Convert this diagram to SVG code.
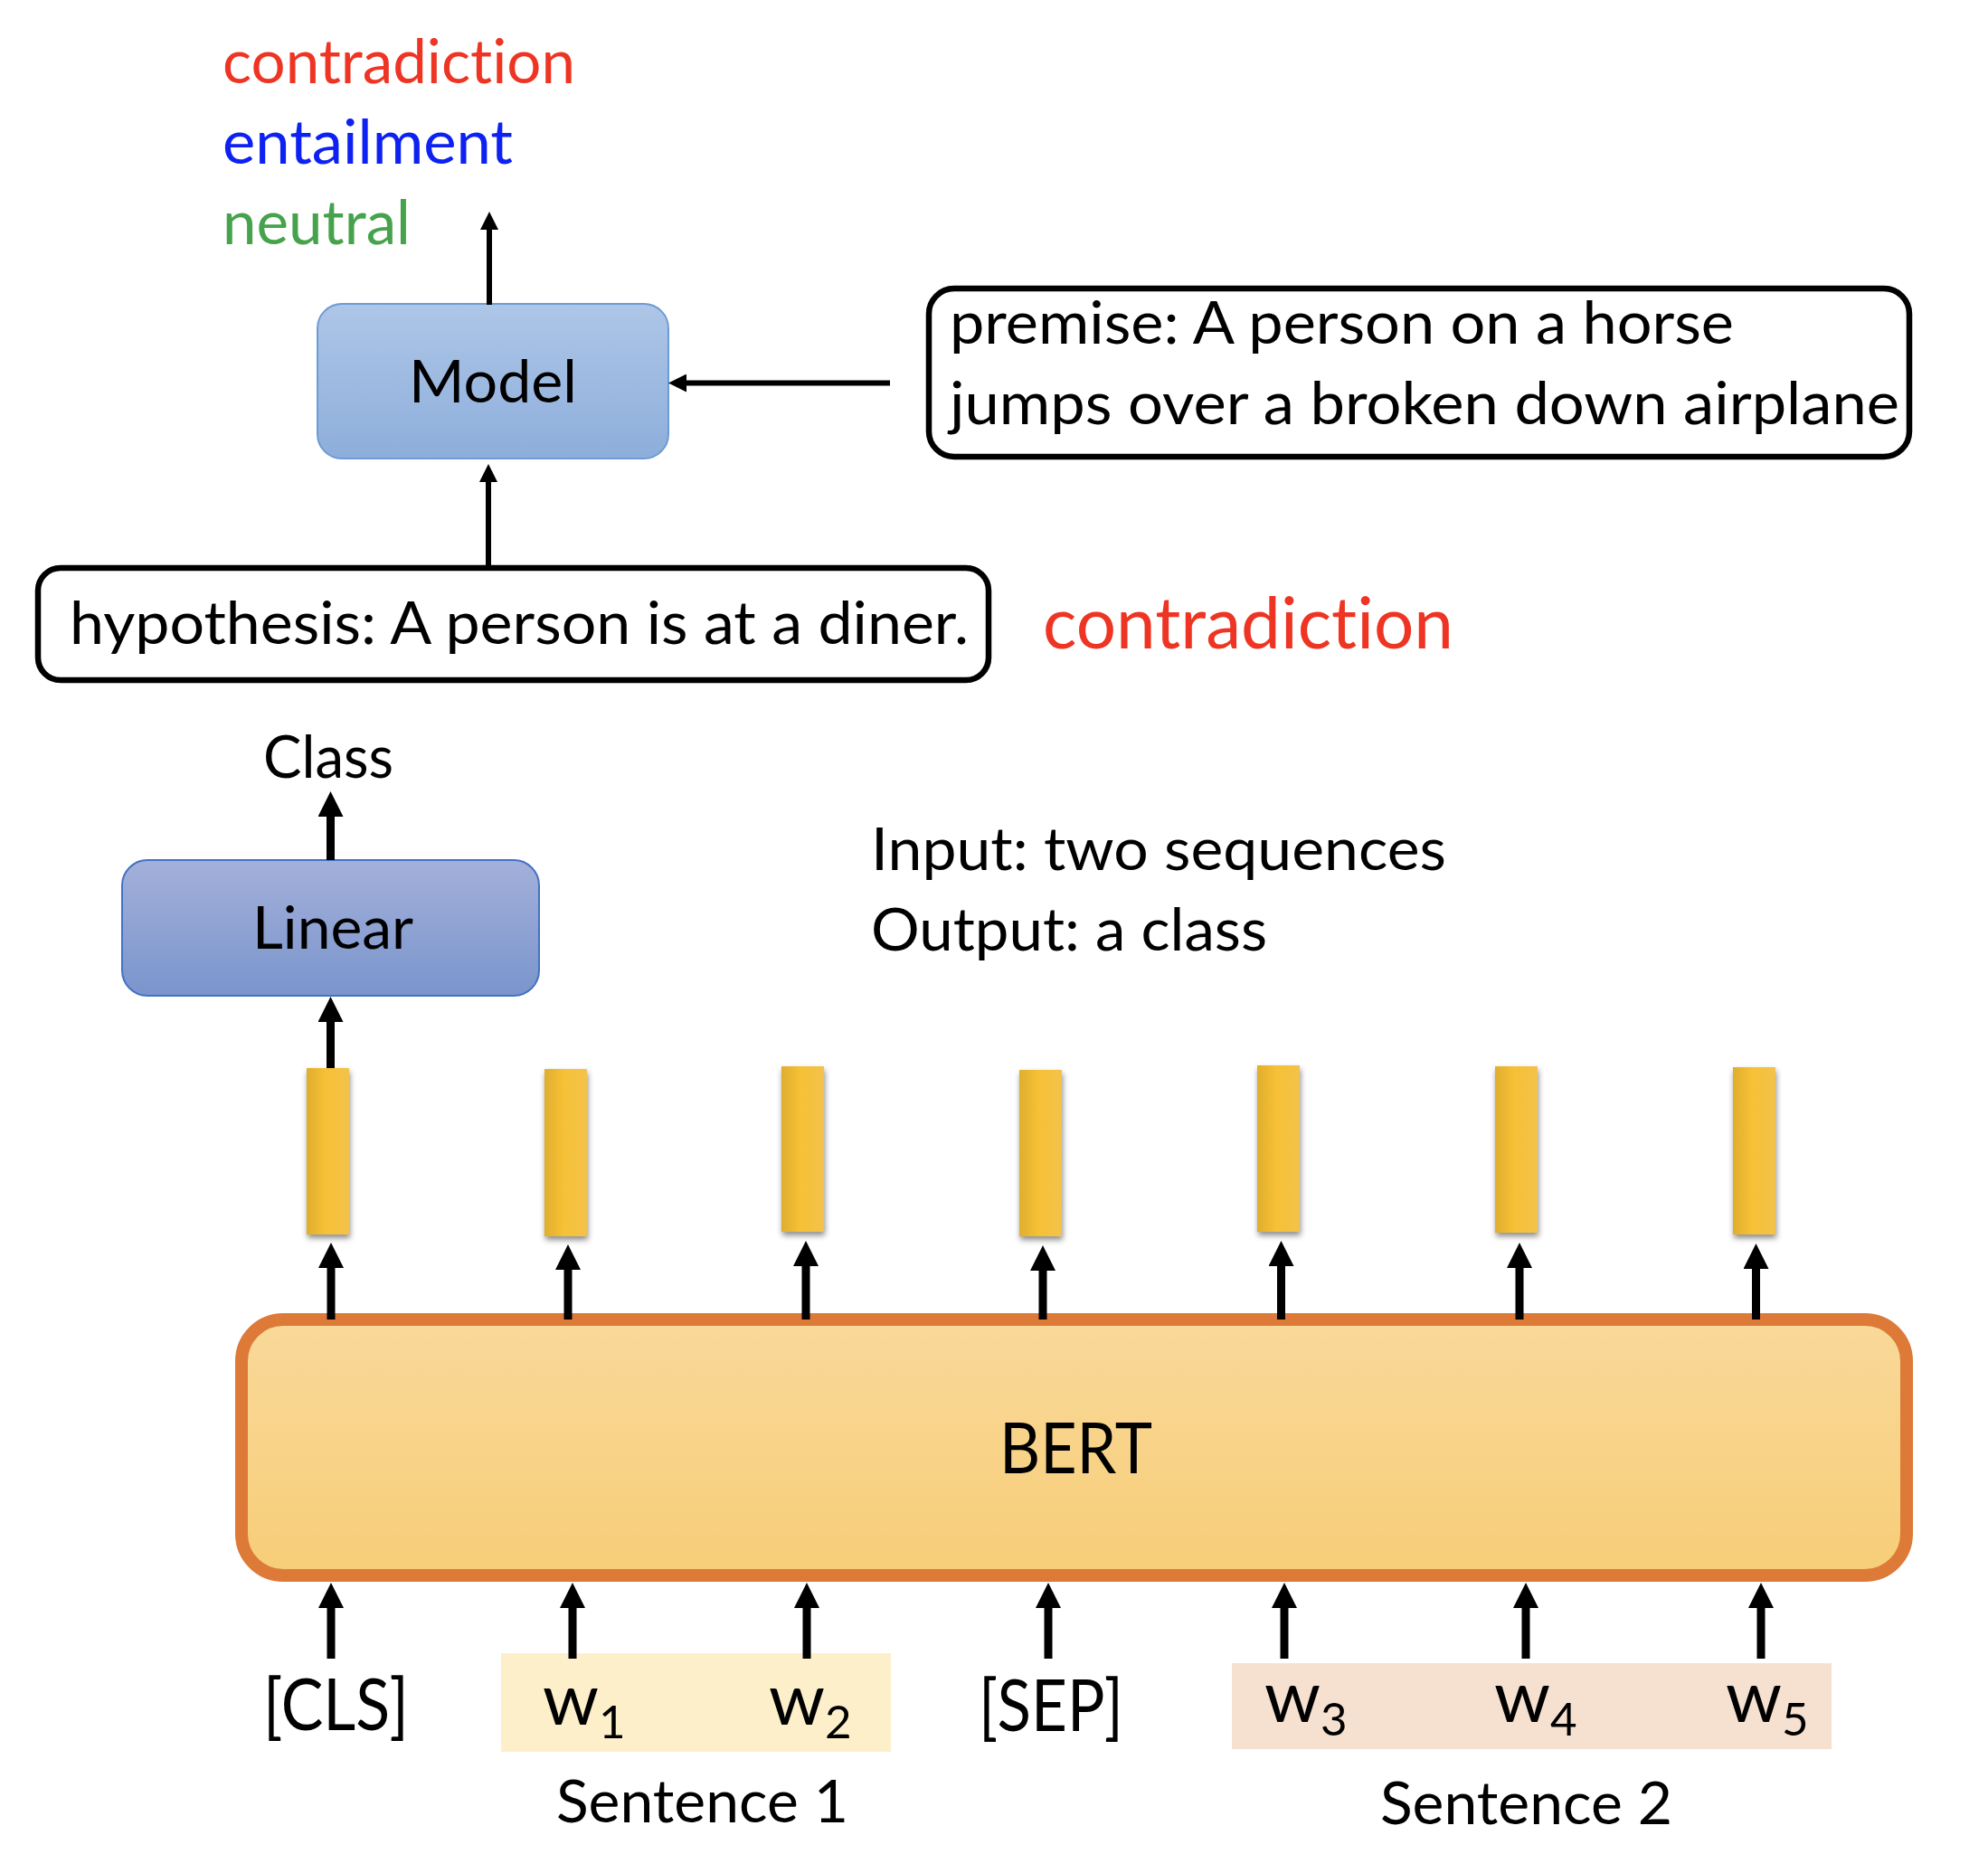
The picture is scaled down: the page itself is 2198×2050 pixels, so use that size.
<svg xmlns="http://www.w3.org/2000/svg" width="2198" height="2050" viewBox="0 0 2198 2050">
<defs>
<style>
.t{font-family:Lato,"Liberation Sans",sans-serif;fill:#000;font-variant-ligatures:none}
.lbl{font-size:66px}
.tok{font-size:79px}
.sub{font-size:51px}
.box{fill:#fff;stroke:#000;stroke-width:6.5}
.vec{fill:url(#gVec);filter:url(#sh)}
.thick{stroke:#000;stroke-width:9;fill:none;marker-end:url(#ah)}
.thin{stroke:#000;stroke-width:6;fill:none;marker-end:url(#ahs)}
</style>
<linearGradient id="gModel" x1="0" y1="0" x2="0" y2="1"><stop offset="0" stop-color="#AEC6E7"/><stop offset="1" stop-color="#8DAEDB"/></linearGradient>
<linearGradient id="gLin" x1="0" y1="0" x2="0" y2="1"><stop offset="0" stop-color="#A3B0DA"/><stop offset="1" stop-color="#7A95CC"/></linearGradient>
<linearGradient id="gBert" x1="0" y1="0" x2="0" y2="1"><stop offset="0" stop-color="#F9D99A"/><stop offset="1" stop-color="#F7CD77"/></linearGradient>
<linearGradient id="gVec" x1="0" y1="0" x2="1" y2="0"><stop offset="0" stop-color="#E0AE2E"/><stop offset="0.45" stop-color="#F6C135"/><stop offset="1" stop-color="#F3C24C"/></linearGradient>
<filter id="sh" x="-30%" y="-10%" width="160%" height="125%"><feDropShadow dx="1" dy="4" stdDeviation="3" flood-color="#000" flood-opacity="0.45"/></filter>
<marker id="ah" markerUnits="userSpaceOnUse" markerWidth="28" markerHeight="28" viewBox="0 -14 28 28" refX="2" refY="0" orient="auto"><path d="M0,-14 L28,0 L0,14 z" fill="#000"/></marker>
<marker id="ahs" markerUnits="userSpaceOnUse" markerWidth="20" markerHeight="20" viewBox="0 -10 20 20" refX="2" refY="0" orient="auto"><path d="M0,-10 L20,0 L0,10 z" fill="#000"/></marker>
</defs>
<rect width="2198" height="2050" fill="#fff"/>

<g id="labels">
<text class="t" x="246" y="92" font-size="68" style="fill:#EE3524" textLength="390" lengthAdjust="spacingAndGlyphs">contradiction</text>
<text class="t" x="246" y="181" font-size="68" style="fill:#0D22F2" textLength="321" lengthAdjust="spacingAndGlyphs">entailment</text>
<text class="t" x="246" y="270" font-size="68" style="fill:#46A34C" textLength="208" lengthAdjust="spacingAndGlyphs">neutral</text>
</g>

<g id="model">
<rect x="351" y="336" width="388" height="171" rx="27" fill="url(#gModel)" stroke="#6D9BD4" stroke-width="2"/>
<text class="t lbl" x="452" y="445" textLength="186" lengthAdjust="spacingAndGlyphs">Model</text>
</g>

<g id="premise">
<rect class="box" x="1027" y="319" width="1084" height="186" rx="28"/>
<text class="t lbl" x="1050" y="380" textLength="867" lengthAdjust="spacingAndGlyphs">premise: A person on a horse</text>
<text class="t lbl" x="1050" y="469" textLength="1050" lengthAdjust="spacingAndGlyphs">jumps over a broken down airplane</text>
</g>

<g id="hypothesis">
<rect class="box" x="42" y="628" width="1051" height="124" rx="25"/>
<text class="t lbl" x="77" y="712" textLength="994" lengthAdjust="spacingAndGlyphs">hypothesis: A person is at a diner.</text>
</g>

<g id="answer">
<text class="t" x="1153" y="717" font-size="79" style="fill:#EE3524" textLength="454" lengthAdjust="spacingAndGlyphs">contradiction</text>
</g>

<g id="class">
<text class="t lbl" x="291" y="860" textLength="144" lengthAdjust="spacingAndGlyphs">Class</text>
</g>

<g id="linear">
<rect x="135" y="951" width="461" height="150" rx="28" fill="url(#gLin)" stroke="#4472C4" stroke-width="2"/>
<text class="t lbl" x="279" y="1049" textLength="178" lengthAdjust="spacingAndGlyphs">Linear</text>
</g>

<g id="io-note">
<text class="t lbl" x="963" y="962" textLength="636" lengthAdjust="spacingAndGlyphs">Input: two sequences</text>
<text class="t lbl" x="963" y="1051" textLength="438" lengthAdjust="spacingAndGlyphs">Output: a class</text>
</g>

<g id="vectors">
<rect class="vec" x="339" y="1181" width="47" height="184"/>
<rect class="vec" x="602" y="1182" width="47" height="185"/>
<rect class="vec" x="864" y="1179" width="47" height="183"/>
<rect class="vec" x="1127" y="1183" width="47" height="184"/>
<rect class="vec" x="1390" y="1178" width="47" height="184"/>
<rect class="vec" x="1653" y="1179" width="47" height="184"/>
<rect class="vec" x="1916" y="1180" width="47" height="185"/>
</g>

<g id="bert">
<rect x="267" y="1459" width="1841" height="283" rx="46" fill="url(#gBert)" stroke="#DE7A38" stroke-width="14"/>
<text class="t" x="1105" y="1629" font-size="77" textLength="169" lengthAdjust="spacingAndGlyphs">BERT</text>
</g>

<g id="sentence1">
<rect x="554" y="1828" width="431" height="109" fill="#FCEFC9"/>
<text class="t lbl" x="615" y="2015" textLength="323" lengthAdjust="spacingAndGlyphs">Sentence 1</text>
</g>

<g id="sentence2">
<rect x="1362" y="1839" width="663" height="95" fill="#F6E1D1"/>
<text class="t lbl" x="1526" y="2017" textLength="323" lengthAdjust="spacingAndGlyphs">Sentence 2</text>
</g>

<g id="tokens">
<text class="t tok" x="291" y="1913" textLength="161" lengthAdjust="spacingAndGlyphs">[CLS]</text>
<text class="t tok" x="1082" y="1914" textLength="160" lengthAdjust="spacingAndGlyphs">[SEP]</text>
<text class="t tok" x="600" y="1907">w<tspan class="sub" dy="15">1</tspan></text>
<text class="t tok" x="850" y="1907">w<tspan class="sub" dy="15">2</tspan></text>
<text class="t tok" x="1398" y="1904">w<tspan class="sub" dy="15">3</tspan></text>
<text class="t tok" x="1652" y="1904">w<tspan class="sub" dy="15">4</tspan></text>
<text class="t tok" x="1908" y="1904">w<tspan class="sub" dy="15">5</tspan></text>
</g>

<g id="connectors">
<line class="thin" x1="541" y1="337" x2="541" y2="252"/>
<line class="thin" x1="984" y1="423.5" x2="757" y2="423.5"/>
<line class="thin" x1="540" y1="629" x2="540" y2="531"/>
<line class="thick" x1="365.5" y1="951" x2="365.5" y2="901"/>
<line class="thick" x1="365.5" y1="1181" x2="365.5" y2="1128"/>
<line class="thick" x1="366" y1="1459" x2="366" y2="1400"/>
<line class="thick" x1="628" y1="1459" x2="628" y2="1402"/>
<line class="thick" x1="891" y1="1459" x2="891" y2="1398"/>
<line class="thick" x1="1153" y1="1459" x2="1153" y2="1403"/>
<line class="thick" x1="1416.5" y1="1459" x2="1416.5" y2="1398"/>
<line class="thick" x1="1680" y1="1459" x2="1680" y2="1400"/>
<line class="thick" x1="1941.5" y1="1459" x2="1941.5" y2="1401"/>
<line class="thick" x1="366" y1="1834" x2="366" y2="1776"/>
<line class="thick" x1="633" y1="1834" x2="633" y2="1776"/>
<line class="thick" x1="892" y1="1834" x2="892" y2="1776"/>
<line class="thick" x1="1159" y1="1834" x2="1159" y2="1776"/>
<line class="thick" x1="1420" y1="1834" x2="1420" y2="1776"/>
<line class="thick" x1="1687" y1="1834" x2="1687" y2="1776"/>
<line class="thick" x1="1947" y1="1834" x2="1947" y2="1776"/>
</g>
</svg>
